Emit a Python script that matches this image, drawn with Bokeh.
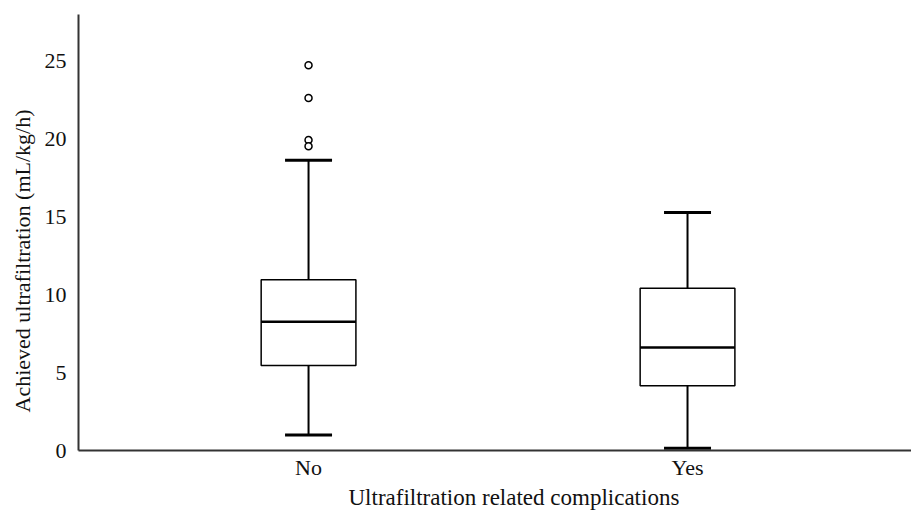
from bokeh.plotting import figure
from bokeh.models import Range1d, FixedTicker, ColumnDataSource, Title
from bokeh.embed import file_html
from bokeh.resources import INLINE

categories = ["No", "Yes"]
lower_whisker = [1.0, 0.15]
q1 = [5.45, 4.15]
median = [8.25, 6.6]
q3 = [10.95, 10.4]
upper_whisker = [18.6, 15.25]
outlier_category = ["No", "No", "No", "No"]
outlier_value = [24.7, 22.6, 19.9, 19.5]
y_ticks = [0, 5, 10, 15, 20, 25]
x_title = "Ultrafiltration related complications"
y_title = "Achieved ultrafiltration (mL/kg/h)"

FONT = "Liberation Serif"
TXT = "#111111"
box_w = 0.25
cap_w = 0.124

xs = [i + 1 for i in range(len(categories))]
src = ColumnDataSource(dict(
    x=xs, lw=lower_whisker, q1=q1, med=median, q3=q3, uw=upper_whisker,
    bl=[x - box_w / 2 for x in xs], br=[x + box_w / 2 for x in xs],
    cl=[x - cap_w / 2 for x in xs], cr=[x + cap_w / 2 for x in xs],
))
osrc = ColumnDataSource(dict(
    x=[categories.index(c) + 1 for c in outlier_category], y=outlier_value))

p = figure(width=911, height=512, output_backend="svg", toolbar_location=None,
           x_range=Range1d(0.393, 2.591), y_range=Range1d(0, 27.95),
           min_border_top=14, min_border_right=0, min_border_left=78, min_border_bottom=62)
p.grid.visible = False
p.outline_line_color = None
p.background_fill_color = "white"

# whiskers
p.segment(x0="x", y0="q3", x1="x", y1="uw", source=src, line_color="black", line_width=2)
p.segment(x0="x", y0="lw", x1="x", y1="q1", source=src, line_color="black", line_width=2)
# caps
p.segment(x0="cl", y0="uw", x1="cr", y1="uw", source=src, line_color="black", line_width=3)
p.segment(x0="cl", y0="lw", x1="cr", y1="lw", source=src, line_color="black", line_width=3)
# boxes
p.vbar(x="x", width=box_w, bottom="q1", top="q3", source=src,
       fill_color="white", line_color="black", line_width=1.5)
# medians
p.segment(x0="bl", y0="med", x1="br", y1="med", source=src, line_color="black", line_width=2.5)
# outliers
p.scatter(x="x", y="y", source=osrc, size=7, fill_color="white",
          line_color="black", line_width=1.5)

for ax in (p.xaxis[0], p.yaxis[0]):
    ax.axis_line_color = "#333333"
    ax.axis_line_width = 2
    ax.major_tick_line_color = None
    ax.minor_tick_line_color = None
    ax.major_label_text_font = FONT
    ax.major_label_text_font_size = "22px"
    ax.major_label_text_color = TXT

p.xaxis.ticker = FixedTicker(ticks=xs)
p.xaxis.major_label_overrides = {x: c for x, c in zip(xs, categories)}
p.xaxis.major_label_standoff = -2

p.yaxis.ticker = FixedTicker(ticks=y_ticks)
p.yaxis.major_label_standoff = 6

p.add_layout(Title(text=x_title, align="left", offset=270, standoff=0,
                   text_font=FONT, text_font_size="23px", text_font_style="normal",
                   text_color=TXT), "below")
p.add_layout(Title(text=y_title, align="left", offset=38, standoff=13,
                   text_font=FONT, text_font_size="22px", text_font_style="normal",
                   text_color=TXT), "left")

open("out.html", "w").write(file_html(p, INLINE))
